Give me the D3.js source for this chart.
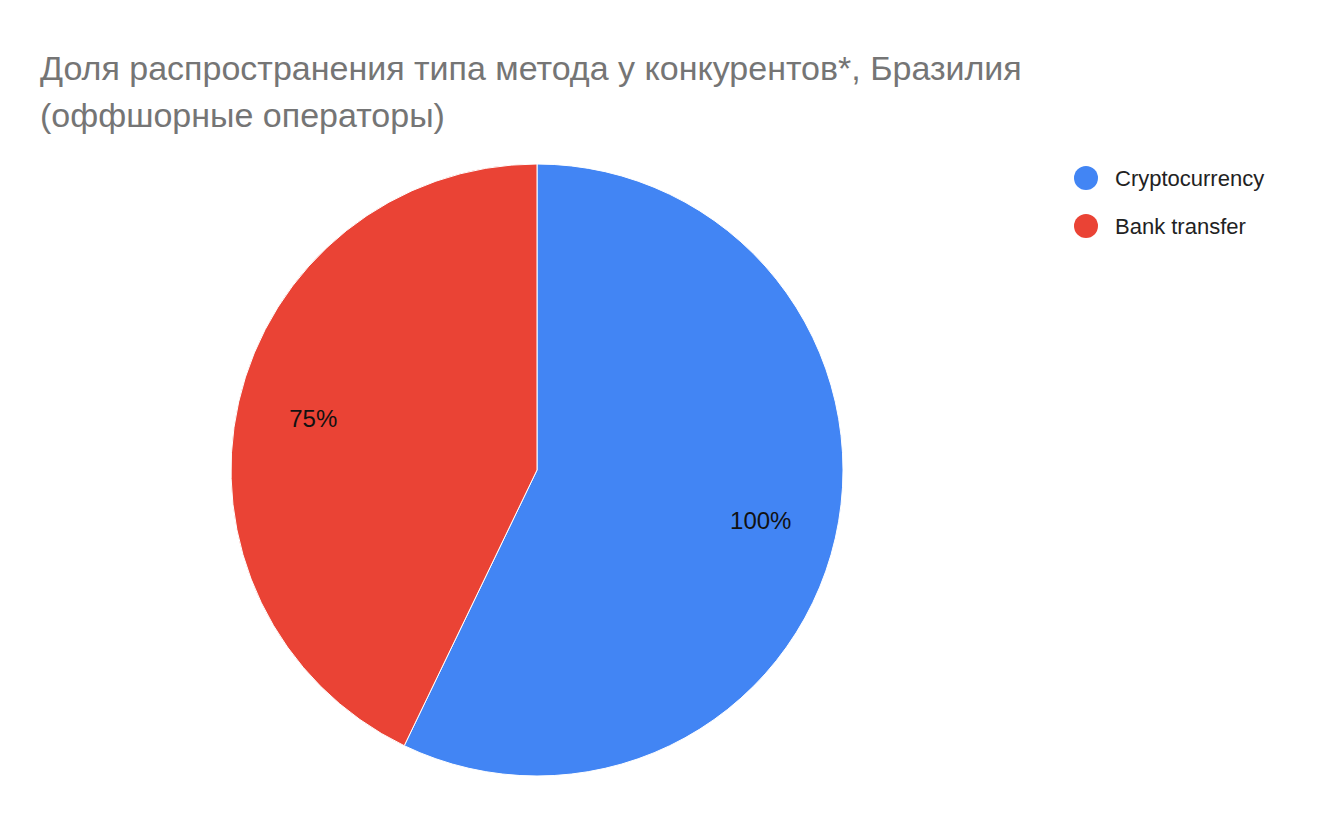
<!DOCTYPE html>
<html><head><meta charset="utf-8">
<script src="https://cdn.jsdelivr.net/npm/d3@7"></script>
<style>body{margin:0;background:#fff}</style></head><body>
<svg id="c" width="1320" height="818"></svg>
<script>
const categories = ["Cryptocurrency", "Bank transfer"];
const values = [100, 75];
const labels = ["100%", "75%"];
const colors = ["#4285f4", "#ea4335"];

const svg = d3.select("#c");
const font = "'Liberation Sans', Arial, sans-serif";
const title = ["Доля распространения типа метода у конкурентов*, Бразилия", "(оффшорные операторы)"];
svg.selectAll("text.t").data(title).join("text").attr("class","t")
  .attr("x", 40).attr("y", (d,i)=>80+i*47).attr("font-family", font)
  .attr("font-size", 34).attr("fill", "#757575").text(d=>d);

const cx = 537, cy = 470, r = 306;
const pie = d3.pie().sort(null)(values);
const arc = d3.arc().innerRadius(0).outerRadius(r);
const g = svg.append("g").attr("transform", `translate(${cx},${cy})`);
g.selectAll("path").data(pie).join("path").attr("d", arc)
  .attr("fill", (d,i)=>colors[i]).attr("stroke", "#fff").attr("stroke-width", 1);
const la = d3.arc().innerRadius(r*0.75).outerRadius(r*0.75);
g.selectAll("text").data(pie).join("text")
  .attr("transform", d=>`translate(${la.centroid(d)})`)
  .attr("text-anchor","middle").attr("dy","0.35em")
  .attr("font-family", font).attr("font-size", 24).attr("fill", "#111")
  .text((d,i)=>labels[i]);

const lg = svg.append("g");
categories.forEach((c,i)=>{
  lg.append("circle").attr("cx",1086).attr("cy",178+i*48).attr("r",12).attr("fill",colors[i]);
  lg.append("text").attr("x",1115).attr("y",178+i*48).attr("dy","0.35em")
    .attr("font-family",font).attr("font-size",22).attr("fill","#222").text(c);
});
</script></body></html>
